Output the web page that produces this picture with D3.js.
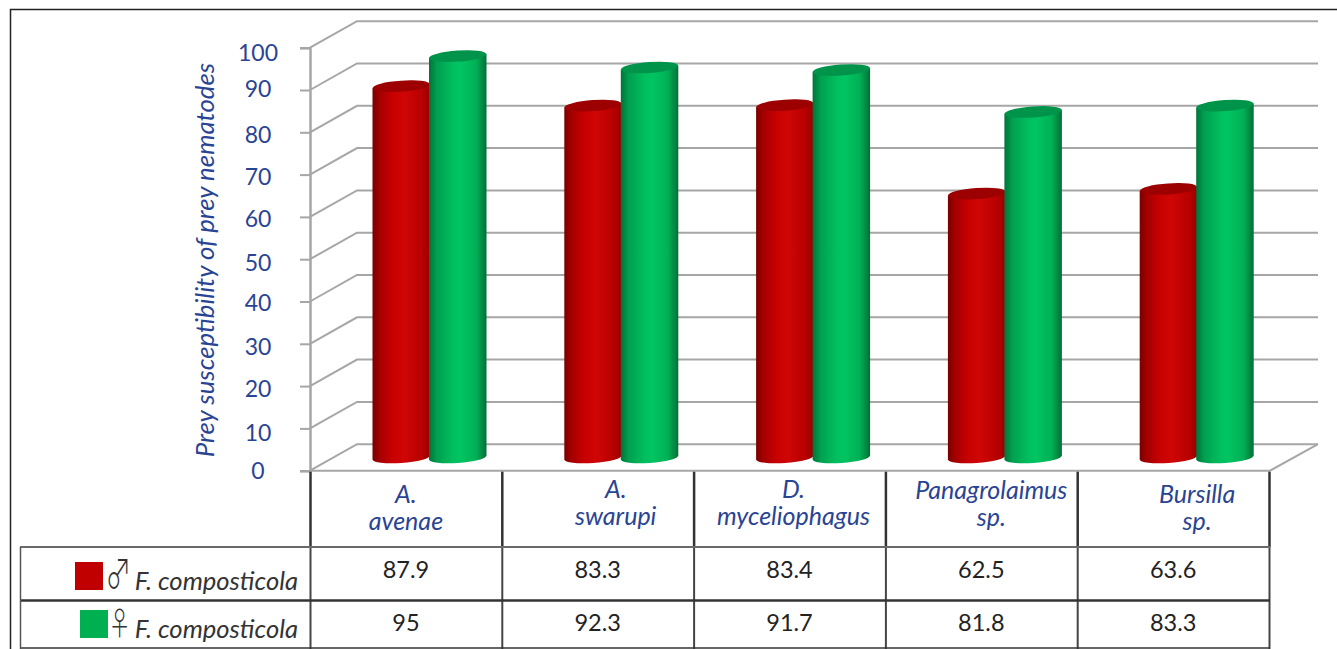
<!DOCTYPE html>
<html>
<head>
<meta charset="utf-8">
<script src="https://cdn.jsdelivr.net/npm/d3@7"></script>
<style>
  html, body { margin: 0; padding: 0; background: #fff; overflow: hidden; }
  svg { display: block; }
  text { font-family: Lato, "Open Sans", sans-serif; }
</style>
</head>
<body>
<svg id="chart" width="1337" height="649"></svg>
<script>
var categories = ["A. avenae", "A. swarupi", "D. myceliophagus", "Panagrolaimus sp.", "Bursilla sp."];
var categoryLines = [["A.", "avenae"], ["A.", "swarupi"], ["D.", "myceliophagus"], ["Panagrolaimus", "sp."], ["Bursilla", "sp."]];
var maleValues = [87.9, 83.3, 83.4, 62.5, 63.6];
var femaleValues = [95, 92.3, 91.7, 81.8, 83.3];
var seriesNames = ["male", "female"];
var yTicks = [0, 10, 20, 30, 40, 50, 60, 70, 80, 90, 100];

var blue = "#2a4494";
var gridColor = "#a6a6a6";
var darkLine = "#333333";

var svg = d3.select("#chart");
var defs = svg.append("defs");

// front plane of the box; the back wall sits at +depthX, -depthY
var depthX = 47, depthY = 26.5;
var y = d3.scaleLinear().domain([0, 100]).range([470.7, 47.7]);
var x0 = d3.scaleBand().domain(categories).range([310, 1269]);
var x1 = d3.scaleBand().domain(seriesNames).range([63, 176]);

function cylGradient(id, stops) {
  var g = defs.append("linearGradient").attr("id", id)
    .attr("x1", "0%").attr("x2", "100%").attr("y1", "0%").attr("y2", "0%");
  stops.forEach(function (s) {
    g.append("stop").attr("offset", s[0]).attr("stop-color", s[1]);
  });
}
cylGradient("redSide", [[0, "#7a0000"], [0.12, "#a30000"], [0.35, "#c80000"], [0.55, "#d00606"], [0.85, "#b80000"], [1, "#9a0000"]]);
cylGradient("greenSide", [[0, "#00743a"], [0.14, "#00a050"], [0.42, "#00bf5e"], [0.55, "#00c462"], [0.82, "#00b056"], [1, "#006f38"]]);

// outer frame, open on the right
svg.append("path")
  .attr("d", "M10.5,649V9.5H1337")
  .attr("fill", "none")
  .attr("stroke", "#222")
  .attr("stroke-width", 1.5);

// back wall gridlines and the slanted side wall lines
var grid = svg.append("g").attr("fill", "none").attr("stroke", gridColor).attr("stroke-width", 2);
grid.selectAll("path.wall")
  .data(yTicks)
  .enter()
  .append("path")
  .attr("class", "wall")
  .attr("d", function (d) {
    return "M310," + y(d) + "L" + (310 + depthX) + "," + (y(d) - depthY) + "H1318";
  });

// floor edge on the right
grid.append("path")
  .attr("d", "M310," + y(0) + "H1270L1318," + (y(0) - depthY));

// y axis
var yAxis = d3.axisLeft(y).tickValues(yTicks).tickSize(10).tickPadding(0);
var axisG = svg.append("g").attr("transform", "translate(310,0)").call(yAxis);
axisG.select(".domain").attr("stroke", gridColor).attr("stroke-width", 2.5);
axisG.selectAll(".tick line").attr("stroke", gridColor).attr("stroke-width", 2);
// tick labels are centred in their own column and sit a little unevenly
var labelShift = [-0.7, 3.6, 2, 3, 0.5, 3.5, 2, 1.5, 2, -2, 5];
axisG.selectAll(".tick text")
  .attr("x", -52)
  .attr("dy", "0.35em")
  .attr("text-anchor", "middle")
  .attr("transform", function (d, i) { return "translate(0," + labelShift[i] + ")"; })
  .style("font-family", "Lato")
  .style("font-size", "23px")
  .attr("fill", blue);

svg.append("text")
  .attr("transform", "translate(214,260) rotate(-90)")
  .attr("text-anchor", "middle")
  .attr("font-style", "italic")
  .attr("font-size", 25.8)
  .attr("fill", blue)
  .text("Prey susceptibility of prey nematodes");

// cylinders
var rx = x1.bandwidth() / 2 + 0.5, ry = 5.5, tilt = -4;
var tiltDy = rx * Math.sin(-tilt * Math.PI / 180);
var baseY = y(0) - depthY / 2;

function barTop(v) { return y(v) - depthY / 2 + 0.5; }

function drawSeries(values, name, sideFill, capFill) {
  var g = svg.append("g").attr("class", "series-" + name);
  var bars = g.selectAll("g")
    .data(values)
    .enter()
    .append("g")
    .attr("transform", function (d, i) {
      return "translate(" + (x0(categories[i]) + x1(name) + x1.bandwidth() / 2) + ",0)";
    });
  bars.append("path")
    .attr("fill", "url(#" + sideFill + ")")
    .attr("d", function (d) {
      var t = barTop(d);
      return "M" + (-rx) + "," + (t + tiltDy) +
        "V" + (baseY + tiltDy) +
        "A" + rx + "," + ry + " " + tilt + " 0 0 " + rx + "," + (baseY - tiltDy) +
        "V" + (t - tiltDy) + "Z";
    });
  bars.append("ellipse")
    .attr("rx", rx)
    .attr("ry", ry)
    .attr("fill", capFill)
    .attr("transform", function (d) { return "translate(0," + barTop(d) + ") rotate(" + tilt + ")"; });
}
drawSeries(maleValues, "male", "redSide", "#9c0000");
drawSeries(femaleValues, "female", "greenSide", "#00934a");

// data table under the plot
var rowTop = 547, rowMid = 600.5, rowBottom = 648;
var edges = categories.map(function (c) { return x0(c); }).concat([x0.range()[1]]);
var table = svg.append("g");

table.selectAll("line.col")
  .data(edges)
  .enter()
  .append("line")
  .attr("class", "col")
  .attr("x1", function (d) { return d + 0.5; })
  .attr("x2", function (d) { return d + 0.5; })
  .attr("y1", y(0) + 1)
  .attr("y2", rowTop)
  .attr("stroke", darkLine)
  .attr("stroke-width", 2.5);

table.selectAll("line.cell")
  .data(edges)
  .enter()
  .append("line")
  .attr("class", "cell")
  .attr("x1", function (d) { return d + 0.5; })
  .attr("x2", function (d) { return d + 0.5; })
  .attr("y1", rowTop)
  .attr("y2", 649)
  .attr("stroke", "#444")
  .attr("stroke-width", 2);

table.append("line").attr("x1", 20).attr("x2", 1270).attr("y1", rowTop).attr("y2", rowTop)
  .attr("stroke", "#6a6a6a").attr("stroke-width", 2);
table.append("line").attr("x1", 20).attr("x2", 1270).attr("y1", rowMid).attr("y2", rowMid)
  .attr("stroke", darkLine).attr("stroke-width", 2.5);
table.append("line").attr("x1", 20).attr("x2", 1270).attr("y1", rowBottom).attr("y2", rowBottom)
  .attr("stroke", darkLine).attr("stroke-width", 1.5);
table.append("line").attr("x1", 20.5).attr("x2", 20.5).attr("y1", rowTop).attr("y2", 649)
  .attr("stroke", "#555").attr("stroke-width", 1.5);

// species names, two lines each; the labels are not centred on their columns
var nudge = [[0, 5], [18, 0], [4, 0], [10, 1], [24, 5]];
var catLabels = svg.append("g").selectAll("text")
  .data(categoryLines)
  .enter()
  .append("text")
  .attr("text-anchor", "middle")
  .attr("font-style", "italic")
  .attr("font-size", 25)
  .attr("fill", blue);
catLabels.each(function (lines, i) {
  var cx = x0(categories[i]) + x0.bandwidth() / 2 + nudge[i][0];
  d3.select(this).selectAll("tspan")
    .data(lines)
    .enter()
    .append("tspan")
    .attr("x", cx)
    .attr("y", function (d, j) { return 498 + nudge[i][1] + j * 27; })
    .text(function (d) { return d; });
});

function drawRowValues(values, baseline) {
  svg.append("g").selectAll("text")
    .data(values)
    .enter()
    .append("text")
    .attr("x", function (d, i) { return x0(categories[i]) + x0.bandwidth() / 2; })
    .attr("y", baseline)
    .attr("text-anchor", "middle")
    .attr("font-size", 23.5)
    .attr("fill", "#222")
    .text(function (d) { return d; });
}
drawRowValues(maleValues, 578);
drawRowValues(femaleValues, 631);

// legend keys in the first table column; the sex symbols are drawn narrow and tall
function legendRow(swatchX, swatchY, color, symbol, symTransform, baseline) {
  svg.append("rect").attr("x", swatchX).attr("y", swatchY).attr("width", 28).attr("height", 28).attr("fill", color);
  svg.append("text")
    .attr("transform", symTransform)
    .style("font-family", "'Noto Sans CJK JP'")
    .attr("font-weight", 300)
    .attr("font-size", 32)
    .attr("fill", "#333")
    .text(symbol);
  svg.append("text").attr("x", 298).attr("y", baseline)
    .attr("text-anchor", "end")
    .attr("font-style", "italic")
    .attr("font-size", 25.6)
    .attr("fill", "#333")
    .text("F. composticola");
}
legendRow(75, 562, "#c00000", "\u2642", "translate(105.4,587.5) scale(0.8,1.23)", 590);
legendRow(80, 610, "#00b050", "\u2640", "translate(108.2,635) scale(0.71,1)", 638);
</script>
</body>
</html>
